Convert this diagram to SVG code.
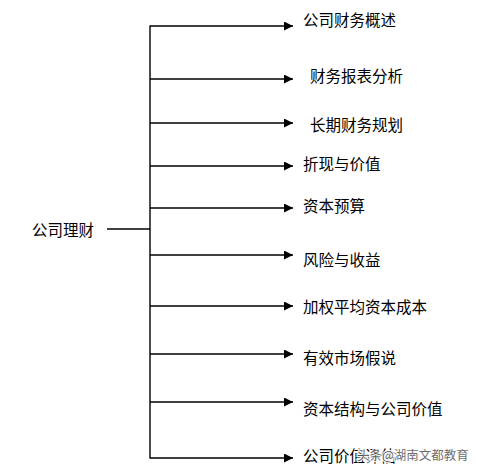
<svg xmlns="http://www.w3.org/2000/svg" width="477" height="472" viewBox="0 0 477 472">
<style>
.t{font-family:"Noto Sans CJK SC","Noto Sans CJK JP",sans-serif;font-size:15.5px;fill:#000}
.c{stroke:#000;stroke-width:1.4;fill:none}
.a{marker-end:url(#ah)}
.w{font-family:"Noto Sans CJK SC",sans-serif;font-size:12.5px;fill:#555;stroke:#fff;stroke-width:2.5px;paint-order:stroke;opacity:0.85}
</style>
<defs>
<marker id="ah" viewBox="0 0 10 10" refX="10" refY="5" markerWidth="9" markerHeight="9" markerUnits="userSpaceOnUse" orient="auto">
<path d="M0,0 L10,5 L0,10 z" fill="#000"/>
</marker>
</defs>
<rect width="477" height="472" fill="#fff"/>
<g id="connectors">
<line class="c" x1="107" y1="229" x2="150" y2="229"/>
<line class="c" x1="150" y1="25.5" x2="150" y2="458.5"/>
<line class="c a" x1="150" y1="26" x2="293" y2="26"/>
<line class="c a" x1="150" y1="79" x2="293" y2="79"/>
<line class="c a" x1="150" y1="123" x2="293" y2="123"/>
<line class="c a" x1="150" y1="166" x2="293" y2="166"/>
<line class="c a" x1="150" y1="208" x2="293" y2="208"/>
<line class="c a" x1="150" y1="255" x2="293" y2="255"/>
<line class="c a" x1="150" y1="306" x2="293" y2="306"/>
<line class="c a" x1="150" y1="354" x2="293" y2="354"/>
<line class="c a" x1="150" y1="402" x2="293" y2="402"/>
<line class="c a" x1="150" y1="458" x2="293" y2="458"/>
</g>
<g id="root"><text class="t" x="32" y="235.5">公司理财</text></g>
<g id="n1"><text class="t" x="303" y="25.5">公司财务概述</text></g>
<g id="n2"><text class="t" x="310" y="81.5">财务报表分析</text></g>
<g id="n3"><text class="t" x="310" y="130.5">长期财务规划</text></g>
<g id="n4"><text class="t" x="303" y="169.5">折现与价值</text></g>
<g id="n5"><text class="t" x="303" y="211.5">资本预算</text></g>
<g id="n6"><text class="t" x="303" y="265.5">风险与收益</text></g>
<g id="n7"><text class="t" x="303" y="312.5">加权平均资本成本</text></g>
<g id="n8"><text class="t" x="303" y="363.5">有效市场假说</text></g>
<g id="n9"><text class="t" x="303" y="414.5">资本结构与公司价值</text></g>
<g id="n10"><text class="t" x="303" y="461.5">公司价值评估</text></g>
<g id="watermark"><text class="w" x="357" y="459.5">头条@湖南文都教育</text></g>
</svg>
